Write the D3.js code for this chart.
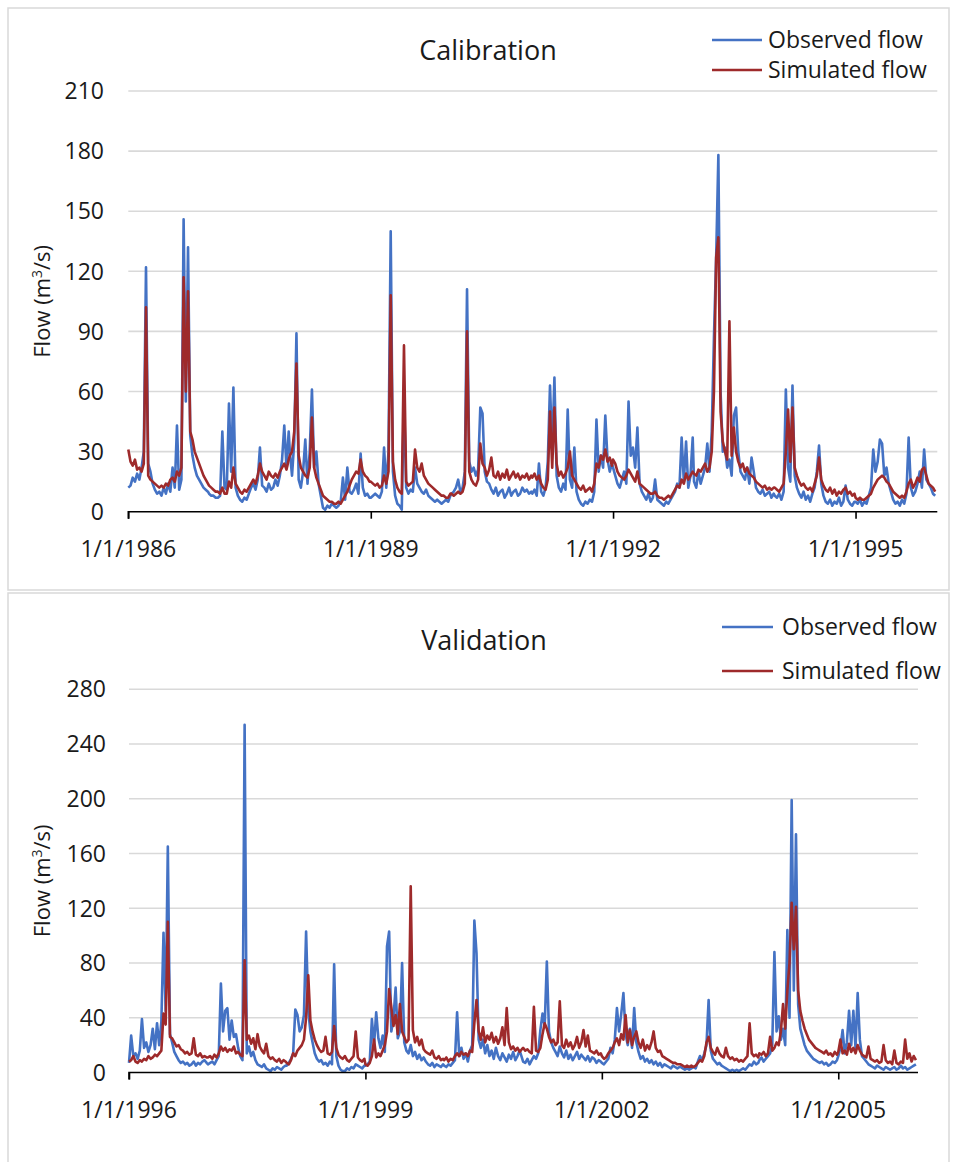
<!DOCTYPE html>
<html><head><meta charset="utf-8">
<script src="https://cdn.jsdelivr.net/npm/d3@7"></script>
<style>
body{margin:0;background:#fff}
svg{display:block}
text{font-family:"Open Sans",sans-serif;fill:#1a1a1a}
</style>
</head><body>
<svg id="chart" width="954" height="1162"></svg>
<script>
// ---------------- DATA (10-day steps, 37 per year) ----------------
const seriesNames = ["Observed flow", "Simulated flow"];
const calTitle = "Calibration", valTitle = "Validation";
const calStartYear = 1986, valStartYear = 1996;
const calYTicks = [0,30,60,90,120,150,180,210];
const valYTicks = [0,40,80,120,160,200,240,280];
const calXTickYears = [1986,1989,1992,1995];
const valXTickYears = [1996,1999,2002,2005];

const obsCal = [
12,13,17,15,19,16,22,30,122,24,20,14,11,9,10,8,12,9,14,10,22,12,43,11,16,146,55,132,38,28,22,18,16,14,12,11,10,
9,8,8,7,7,8,40,12,11,54,20,62,12,8,6,5,7,6,9,12,14,11,16,32,13,12,10,14,11,12,16,13,18,26,43,22,40,
30,18,35,89,16,12,20,36,14,30,61,22,30,14,8,2,1,3,2,4,3,2,3,5,17,6,22,10,9,11,14,9,29,12,8,9,7,
7,8,9,8,7,10,32,12,30,140,20,8,4,3,1,58,12,9,11,10,22,14,12,10,9,11,8,7,6,5,6,5,4,5,6,5,8,
9,10,12,16,10,12,20,111,25,20,22,18,21,52,49,20,15,14,11,9,12,8,10,11,7,9,12,8,10,11,8,9,12,10,11,9,10,
9,11,8,24,10,8,12,25,63,30,67,18,12,10,14,11,51,16,12,32,10,6,4,3,5,4,6,5,10,46,20,28,22,48,26,20,24,
22,18,14,12,16,20,14,55,28,32,22,42,14,10,8,6,9,5,7,16,6,5,4,3,5,4,6,8,10,14,12,37,15,35,12,18,37,
15,12,20,14,18,22,34,20,40,87,127,178,60,30,32,22,26,18,48,52,30,20,18,16,22,14,27,20,12,10,9,11,8,9,10,7,9,
8,7,9,6,10,61,22,15,63,18,12,9,7,10,6,8,5,9,12,20,33,14,8,5,4,6,3,5,4,7,3,5,13,6,4,3,5,
5,4,6,3,5,4,8,12,31,20,25,36,34,18,22,14,10,6,4,5,3,6,4,9,37,12,8,10,14,20,12,31,16,14,12,9,8
];
const simCal = [
31,25,23,26,21,22,20,24,102,18,16,15,14,13,12,13,12,14,13,16,17,15,20,18,22,117,60,110,40,36,30,27,24,21,18,16,14,
13,12,11,10,10,9,12,9,9,15,12,22,14,12,10,9,11,10,12,14,16,14,18,24,20,18,16,20,18,17,19,17,20,22,24,21,26,
28,30,40,74,28,22,20,18,17,22,47,22,17,14,11,8,7,6,5,5,4,4,5,4,6,8,10,13,16,18,20,19,26,20,18,17,15,
15,14,13,14,12,13,18,14,20,108,25,16,12,10,9,83,15,13,14,15,31,22,20,24,18,16,14,13,12,11,10,9,8,8,7,7,9,
9,8,9,10,9,10,14,90,20,16,14,13,16,34,24,22,18,21,27,18,17,20,16,19,17,21,16,18,20,17,19,16,18,17,19,16,18,
17,19,16,18,14,12,11,16,50,22,52,24,18,20,17,19,22,30,18,16,14,12,11,13,10,11,12,10,14,24,22,28,26,31,25,27,23,
26,24,20,18,17,16,18,21,19,17,15,20,14,13,12,11,10,9,9,10,8,7,7,6,7,8,7,9,11,13,12,16,14,19,16,18,20,
19,18,21,20,22,24,20,22,30,60,127,137,50,35,30,26,95,28,42,30,25,22,24,20,22,19,18,17,15,14,13,12,13,11,12,11,12,
12,11,10,12,14,30,51,25,52,22,18,15,13,14,12,11,12,10,14,18,27,16,13,11,10,12,9,11,8,10,9,11,12,9,10,8,9,
7,6,7,6,6,7,8,9,12,14,16,17,18,17,15,14,12,10,9,8,7,8,7,10,14,16,12,14,17,15,21,22,18,14,13,12,10
];
const obsVal = [
7,27,12,14,10,16,39,18,22,15,20,32,17,36,20,37,102,45,165,28,22,15,12,9,7,8,6,7,5,6,8,5,7,6,8,9,7,
6,7,8,6,9,12,65,30,45,47,24,38,26,28,18,12,9,254,14,19,12,15,9,6,5,4,6,3,2,1,3,2,4,3,2,4,5,
5,7,10,14,46,42,30,33,42,103,45,30,22,14,10,8,9,6,7,5,8,6,79,12,5,2,1,1,3,2,4,3,6,5,4,3,5,
5,6,8,39,20,44,25,18,27,15,92,103,30,40,62,25,30,80,22,16,14,20,12,15,10,13,9,11,8,6,5,7,4,6,5,4,6,
5,4,6,5,7,9,44,12,18,10,14,8,16,20,111,87,24,18,24,14,20,12,16,10,18,12,9,14,11,8,13,10,15,9,12,16,11,
8,7,10,6,9,12,10,14,31,43,34,81,30,22,18,15,12,19,14,11,16,10,13,9,12,15,10,13,11,9,12,8,11,10,7,9,8,
7,6,8,10,18,14,24,47,30,43,58,28,20,32,18,47,22,15,10,12,8,10,7,9,6,8,5,7,4,6,5,4,3,5,4,3,4,
4,3,2,3,2,3,4,3,8,12,9,14,20,53,16,10,8,6,7,5,4,3,2,1,2,1,2,1,2,3,2,4,6,5,8,6,7,
9,11,8,10,12,14,20,88,30,41,24,32,20,104,40,199,60,174,50,32,26,20,16,14,12,10,9,8,7,8,6,7,5,6,8,7,9,
12,18,31,14,22,45,20,45,18,58,24,12,10,8,6,5,4,3,5,4,3,2,4,3,2,3,4,2,3,5,3,4,2,3,4,5,6
];
const simVal = [
8,9,12,8,7,9,8,10,9,12,10,11,13,12,14,16,43,35,110,26,25,22,19,20,17,16,14,15,13,14,25,13,12,14,11,12,11,
11,12,10,13,11,14,19,16,18,15,17,16,19,14,15,13,12,82,24,27,21,25,17,28,19,16,14,21,12,10,11,9,8,10,7,9,8,
7,6,9,14,12,16,18,20,24,40,71,38,30,24,20,17,15,16,26,14,13,15,34,18,13,11,10,12,9,8,10,12,30,11,9,8,10,
6,5,7,12,24,11,14,12,16,20,30,61,48,34,42,28,50,30,26,22,24,136,31,22,26,20,24,17,15,14,13,16,11,10,12,9,10,
9,11,8,10,9,12,14,12,15,13,14,12,16,15,36,53,30,24,33,22,27,24,29,22,26,21,25,33,20,47,22,17,19,16,18,15,17,
18,16,17,15,14,48,16,15,18,28,36,32,26,22,24,20,22,52,20,18,24,19,22,17,20,26,18,22,31,19,27,16,15,14,16,13,14,
12,10,11,14,16,18,22,25,20,28,24,42,22,31,20,26,30,22,18,24,16,20,17,22,30,18,15,16,12,11,10,9,8,7,7,6,6,
6,5,4,5,4,5,4,5,7,9,8,12,22,26,18,15,13,18,14,12,11,18,12,10,11,9,10,8,9,8,10,12,36,14,12,13,11,
14,13,15,12,14,26,16,18,22,20,30,50,32,60,80,124,90,121,60,45,38,32,28,24,22,20,18,17,16,15,14,16,13,14,12,15,13,
15,24,14,16,13,21,15,18,14,20,16,13,12,11,19,10,9,8,9,7,8,20,9,7,8,6,16,7,6,8,7,24,10,14,8,12,9
];

// ---------------- LAYOUT ----------------
const COLORS = ["#4472C4", "#9E2A2B"];
const svg = d3.select("#chart");

const panels = [
  {title: calTitle, start: calStartYear, obs: obsCal, sim: simCal, yTicks: calYTicks, xTicks: calXTickYears,
   box: [8, 8, 941, 582], xr: [128.3, 936.3], yr: [511.7, 91], titleX: 488, titleY: 60,
   leg: {x1: 712, x2: 762, tx: 768, ys: [40, 70]}, yLabX: 104, xLabY: 557},
  {title: valTitle, start: valStartYear, obs: obsVal, sim: simVal, yTicks: valYTicks, xTicks: valXTickYears,
   box: [8, 593, 941, 600], xr: [129, 917], yr: [1072.5, 689.2], titleX: 484, titleY: 650,
   leg: {x1: 722, x2: 773, tx: 782, ys: [627, 671]}, yLabX: 106, xLabY: 1118}
];

const DAY = 86400000;
function dateOf(start, i) {
  const y = start + Math.floor(i / 37), k = i % 37;
  return new Date(Date.UTC(y, 0, 1) + k * 10 * DAY);
}

panels.forEach(p => {
  const g = svg.append("g");
  g.append("rect").attr("x", p.box[0]).attr("y", p.box[1]).attr("width", p.box[2]).attr("height", p.box[3])
    .attr("fill", "#fff").attr("stroke", "#d9d9d9").attr("stroke-width", 1.5);

  const x = d3.scaleUtc().domain([new Date(Date.UTC(p.start, 0, 1)), new Date(Date.UTC(p.start + 10, 0, 1))]).range(p.xr);
  const yMax = p.yTicks[p.yTicks.length - 1];
  const y = d3.scaleLinear().domain([0, yMax]).range(p.yr);

  // gridlines
  g.append("g").selectAll("line").data(p.yTicks.filter(d => d > 0)).join("line")
    .attr("x1", p.xr[0]).attr("x2", p.xr[1] + 1).attr("y1", d => y(d)).attr("y2", d => y(d))
    .attr("stroke", "#d9d9d9").attr("stroke-width", 1.6);

  // y labels
  g.append("g").selectAll("text").data(p.yTicks).join("text")
    .attr("x", p.yLabX).attr("y", d => y(d)).attr("dy", "0.36em").attr("text-anchor", "end")
    .attr("font-size", 23).text(d => d);

  // lines
  const line = d3.line().x((d, i) => x(dateOf(p.start, i))).y(d => y(d));
  [p.obs, p.sim].forEach((s, j) => {
    g.append("path").datum(s).attr("d", line).attr("fill", "none")
      .attr("stroke", COLORS[j]).attr("stroke-width", 2.6).attr("stroke-linejoin", "round");
  });

  // x axis
  const ax = g.append("g").attr("transform", `translate(0,${p.yr[0]})`)
    .call(d3.axisBottom(x).tickValues(p.xTicks.map(yy => new Date(Date.UTC(yy, 0, 1))))
      .tickSize(7).tickFormat(() => ""));
  ax.select(".domain").attr("stroke", "#000").attr("stroke-width", 1.6).attr("d", `M${p.xr[0]},7V0H${p.xr[1]+1}`);
  ax.selectAll(".tick line").attr("stroke", "#000").attr("stroke-width", 1.6);
  g.append("g").selectAll("text").data(p.xTicks).join("text")
    .attr("x", d => x(new Date(Date.UTC(d, 0, 1)))).attr("y", p.xLabY).attr("text-anchor", "middle")
    .attr("font-size", 23).text(d => "1/1/" + d);

  // title
  g.append("text").attr("x", p.titleX).attr("y", p.titleY).attr("text-anchor", "middle")
    .attr("font-size", 27).text(p.title);

  // y title
  const yt = g.append("text").attr("transform", `translate(42,${(p.yr[0] + p.yr[1]) / 2}) rotate(-90)`)
    .attr("text-anchor", "middle").attr("dy", "0.36em").attr("font-size", 22);
  yt.append("tspan").text("Flow (m");
  yt.append("tspan").attr("font-size", 14).attr("dy", "-0.6em").text("3");
  yt.append("tspan").attr("dy", "0.4em").text("/s)");

  // legend
  seriesNames.forEach((n, j) => {
    const ly = p.leg.ys[j];
    g.append("line").attr("x1", p.leg.x1).attr("x2", p.leg.x2).attr("y1", ly).attr("y2", ly)
      .attr("stroke", COLORS[j]).attr("stroke-width", 2.4);
    g.append("text").attr("x", p.leg.tx).attr("y", ly).attr("dy", "0.36em").attr("font-size", 23).text(n);
  });
});
</script>
</body></html>
